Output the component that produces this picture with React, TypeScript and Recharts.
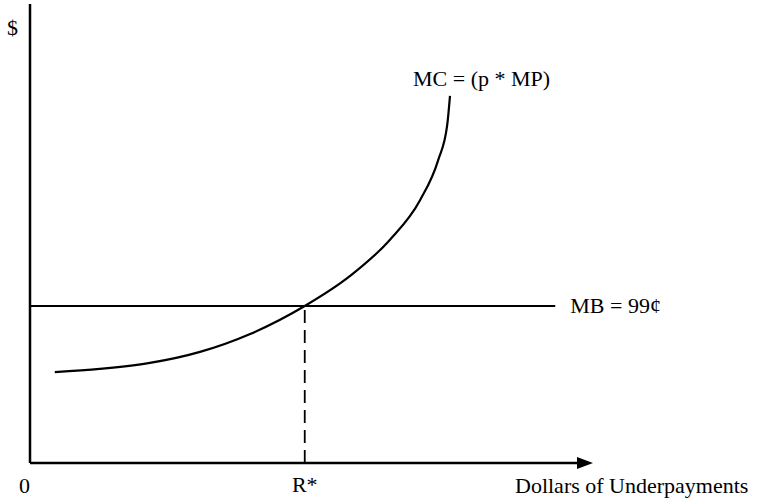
import React from 'react';
import { ComposedChart, Line, XAxis, YAxis, ReferenceLine, ReferenceDot } from 'recharts';

// Marginal cost curve MC = (p * MP): dollars of underpayments vs $
const mcX = [4.4, 12.4, 21.3, 30.2, 39.1, 48.8, 56.8, 63.9, 69.3, 72.5, 74.1, 74.6];
const mcY = [19.8, 20.5, 21.8, 24.2, 28.1, 34.2, 40.7, 48.6, 57.3, 66.0, 73.6, 80.0];
const mbValue = 34.2;
const mbEndX = 93.3;
const rStar = 48.8;
const axisMax = 100;

const mcData = mcX.map((x, i) => ({ x, mc: mcY[i] }));

const FONT = '"Liberation Serif", "Times New Roman", serif';

const textAt = (txt: string, dx: number, dy: number, anchor: string = 'start') => (p: any) => (
  <text x={p.cx + dx} y={p.cy + dy} textAnchor={anchor} fontFamily={FONT} fontSize={22} fill="#000">
    {txt}
  </text>
);

const arrowHead = (p: any) => (
  <path d={`M${p.cx},${p.cy} L${p.cx - 16},${p.cy - 6} L${p.cx - 16},${p.cy + 6} Z`} fill="#000" />
);

export default function App() {
  return (
    <div style={{ position: 'absolute', left: 0, top: 0, width: 760, height: 501, background: '#fff' }}>
      <ComposedChart width={760} height={501} data={mcData} margin={{ top: 4, right: 167, bottom: 38, left: 30 }}>
        <XAxis type="number" dataKey="x" domain={[0, axisMax]} hide />
        <YAxis type="number" domain={[0, axisMax]} hide />
        <ReferenceLine segment={[{ x: 0, y: 0 }, { x: 0, y: axisMax }]} stroke="#000" strokeWidth={2.5} ifOverflow="visible" />
        <ReferenceLine segment={[{ x: 0, y: 0 }, { x: axisMax - 2, y: 0 }]} stroke="#000" strokeWidth={2.5} ifOverflow="visible" />
        <ReferenceLine segment={[{ x: 0, y: mbValue }, { x: mbEndX, y: mbValue }]} stroke="#000" strokeWidth={1.8} ifOverflow="visible" />
        <ReferenceLine segment={[{ x: rStar, y: 0 }, { x: rStar, y: mbValue }]} stroke="#000" strokeWidth={1.8} strokeDasharray="13 7" ifOverflow="visible" />
        <Line type="monotone" dataKey="mc" stroke="#000" strokeWidth={2.2} dot={false} isAnimationActive={false} />
        <ReferenceDot x={axisMax} y={0} r={0} shape={arrowHead} ifOverflow="visible" />
        <ReferenceDot x={0} y={axisMax} r={0} shape={textAt('$', -23, 31)} ifOverflow="visible" />
        <ReferenceDot x={0} y={0} r={0} shape={textAt('0', -11, 30)} ifOverflow="visible" />
        <ReferenceDot x={rStar} y={0} r={0} shape={textAt('R*', 0, 29, 'middle')} ifOverflow="visible" />
        <ReferenceDot x={axisMax} y={0} r={0} shape={textAt('Dollars of Underpayments', -78, 30)} ifOverflow="visible" />
        <ReferenceDot x={mcX[mcX.length - 1]} y={mcY[mcY.length - 1]} r={0} shape={textAt('MC = (p * MP)', -37, -10)} ifOverflow="visible" />
        <ReferenceDot x={mbEndX} y={mbValue} r={0} shape={textAt('MB = 99¢', 15, 7)} ifOverflow="visible" />
      </ComposedChart>
    </div>
  );
}
